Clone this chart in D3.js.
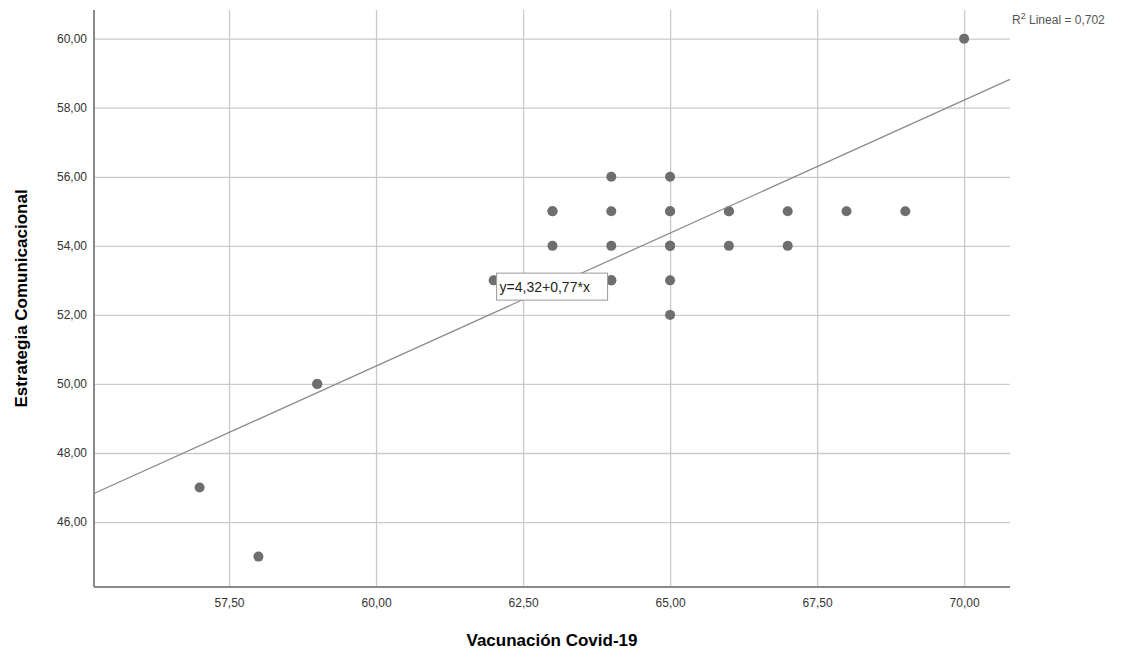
<!DOCTYPE html>
<meta charset="utf-8">
<html>
<head>
<script src="https://cdn.jsdelivr.net/npm/d3@7"></script>
<style>
body {
  margin:0;
  background-color:white;
}
.tick text {
  font-family:'Liberation Sans', Arial, sans-serif;
  font-size:12px;
  fill:#333;
}
.grid line {
  stroke:#c9c9c9;
  stroke-width:1.3;
}
.grid path {
  stroke-width:0;
}
.axis-title {
  font-family:'Liberation Sans', Arial, sans-serif;
  font-weight:bold;
  font-size:17px;
  fill:#000;
}
</style>
</head>
<body>
<script>

//Data
var vacunacion = [57, 58, 59, 59, 62, 63, 63, 63, 64, 64, 64, 64, 64, 65, 65, 65, 65, 65, 65, 65, 66, 66, 66, 67, 67, 68, 69, 70];
var estrategia = [47, 45, 50, 50, 53, 55, 55, 54, 56, 55, 54, 53, 53, 56, 55, 55, 54, 54, 53, 52, 55, 55, 54, 55, 54, 55, 55, 60];
var xTicks = [57.5, 60, 62.5, 65, 67.5, 70];
var yTicks = [46, 48, 50, 52, 54, 56, 58, 60];
var fitIntercept = 4.32;
var fitSlope = 0.77;
var fitLabel = "y=4,32+0,77*x";
var r2Label = "0,702";

//Margin conventions
var m = {top:10, right:120, bottom:67, left:94},
    w = 1130 - m.left - m.right,
    h = 654 - m.top - m.bottom;

var root = d3.select("body")
    .append("svg")
    .attr("width", 1130)
    .attr("height", 654);

var svg = root.append("g")
    .attr("transform", `translate(${m.left}, ${m.top})`);

//Scales
var x = d3.scaleLinear()
    .domain([55.204, 70.78])
    .range([0, w]);

var y = d3.scaleLinear()
    .domain([44.12, 60.83])
    .range([h, 0]);

var fmt = d => d3.format(".2f")(d).replace(".", ",");

//Grid + ticks
svg.append("g")
    .attr("class", "grid")
    .attr("transform", `translate(0, ${h})`)
    .call(d3.axisBottom(x)
      .tickValues(xTicks)
      .tickSize(-h)
      .tickPadding(11)
      .tickFormat(fmt));

svg.append("g")
    .attr("class", "grid")
    .call(d3.axisLeft(y)
      .tickValues(yTicks)
      .tickSize(-w)
      .tickPadding(7)
      .tickFormat(fmt));

//Axis lines
svg.append("line")
    .attr("x1", 0).attr("x2", 0)
    .attr("y1", 0).attr("y2", h)
    .attr("stroke", "#8a8a8a")
    .attr("stroke-width", 2);

svg.append("line")
    .attr("x1", 0).attr("x2", w)
    .attr("y1", h).attr("y2", h)
    .attr("stroke", "#8a8a8a")
    .attr("stroke-width", 2);

//Points
svg.selectAll("circle")
    .data(vacunacion)
    .enter()
    .append("circle")
    .attr("cx", d => x(d))
    .attr("cy", (d, i) => y(estrategia[i]))
    .attr("r", 5)
    .attr("fill", "#6e6e6e");

//Fit line
var xd = x.domain();
svg.append("line")
    .attr("x1", x(xd[0]))
    .attr("y1", y(fitIntercept + fitSlope * xd[0]))
    .attr("x2", x(xd[1]))
    .attr("y2", y(fitIntercept + fitSlope * xd[1]))
    .attr("stroke", "#8c8c8c")
    .attr("stroke-width", 1.3);

//Equation label box (sits just right of the 62,00 / 53,00 point)
var lx = x(62.05), ly = y(53.21);
svg.append("rect")
    .attr("x", lx)
    .attr("y", ly)
    .attr("width", 111)
    .attr("height", 27)
    .attr("fill", "white")
    .attr("stroke", "#999")
    .attr("stroke-width", 1);

svg.append("text")
    .attr("x", lx + 3)
    .attr("y", ly + 19)
    .style("font-family", "'Liberation Sans', Arial, sans-serif")
    .style("font-size", "14px")
    .attr("fill", "#222")
    .text(fitLabel);

//R2 label
var r2 = root.append("text")
    .attr("x", 1012)
    .attr("y", 24)
    .style("font-family", "'Liberation Sans', Arial, sans-serif")
    .style("font-size", "12px")
    .attr("fill", "#555");
r2.append("tspan").text("R");
r2.append("tspan").attr("dy", -5).style("font-size", "9px").text("2");
r2.append("tspan").attr("dy", 5).text(" Lineal = " + r2Label);

//Axis titles
root.append("text")
    .attr("class", "axis-title")
    .attr("text-anchor", "middle")
    .attr("x", m.left + w / 2)
    .attr("y", 646)
    .text("Vacunación Covid-19");

root.append("text")
    .attr("class", "axis-title")
    .attr("text-anchor", "middle")
    .attr("transform", `translate(27, ${m.top + h / 2}) rotate(-90)`)
    .text("Estrategia Comunicacional");

</script>
</body>
</html>
